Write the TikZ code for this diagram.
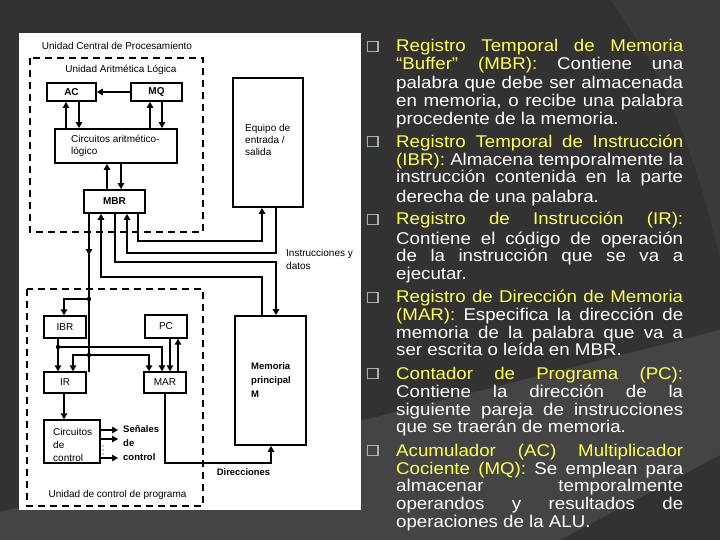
\documentclass[tikz,border=0pt]{standalone}
\usepackage{fontspec}
\setmainfont{Liberation Sans}
\newfontfamily\rfont[FakeStretch=1.1]{Liberation Sans}
\usetikzlibrary{arrows.meta}
\definecolor{bgd}{RGB}{50,50,50}
\definecolor{bgl}{RGB}{68,68,68}
\definecolor{bgm}{RGB}{58,58,58}
\definecolor{ylw}{RGB}{255,255,85}
\definecolor{bul}{RGB}{165,176,178}
\newcommand\JL[1]{\makebox[287pt][s]{#1}}
\begin{document}
\begin{tikzpicture}[x=1pt,y=-1pt,
  box/.style={draw=black, line width=1.8pt, fill=white, inner sep=0pt, font=\fontsize{10}{12}\selectfont},
  sbox/.style={draw=black, line width=1.4pt, fill=white, inner sep=0pt, font=\fontsize{10}{12}\selectfont},
  arr/.style={-{Triangle[length=6pt,width=6.5pt]}},
  thin/.style={line width=1.1pt},
  thk/.style={line width=1.9pt},
  dbox/.style={draw, line width=1.5pt, dash pattern=on 7pt off 5pt},
  lbl/.style={font=\fontsize{10}{12}\selectfont, inner sep=0pt, text=black},
  rl/.style={anchor=base west, inner sep=0pt, text=white, font=\rfont\fontsize{17}{18.1}\selectfont},
  bsq/.style={draw=bul, line width=1.1pt},
]
\useasboundingbox (0,0) rectangle (720,540);
% background
\fill[bgd] (0,0) rectangle (720,540);
\fill[bgm] (610,0) .. controls (670,80) and (700,170) .. (720,260) -- (720,0) -- cycle;
\fill[bgl] (0,512) -- (720,330) -- (720,455) -- (560,540) -- (0,540) -- cycle;
\fill[white] (19,33) rectangle (361,510);

% dashed units
\draw[dbox] (30,58) rectangle (203,232);
\draw[dbox] (27,289) rectangle (203,506);

% boxes
\node[box, minimum width=49pt, minimum height=18pt] (ac) at (71.5,92) {\bfseries AC};
\node[box, minimum width=51pt, minimum height=18pt] (mq) at (156.5,92) {\bfseries MQ};
\node[box, minimum width=122pt, minimum height=34pt] (alu) at (116,146) {};
\node[lbl, anchor=west, align=left] (alut) at (71,146) {Circuitos aritmético-\\lógico};
\node[box, minimum width=61pt, minimum height=23pt] (mbr) at (114.5,201.5) {\bfseries MBR};
\node[box, minimum width=70pt, minimum height=129pt] (io) at (268,142.5) {};
\node[lbl, anchor=west, align=left] (iot) at (245,140) {Equipo de\\entrada /\\salida};
\node[box, minimum width=71pt, minimum height=129pt] (mem) at (270.5,380.5) {};
\node[lbl, anchor=west, align=left, font=\bfseries\fontsize{9.5}{14}\selectfont] (memt) at (251,380) {Memoria\\principal\\M};
\node[sbox, minimum width=42pt, minimum height=22pt] (ibr) at (65,327) {IBR};
\node[sbox, minimum width=42pt, minimum height=23pt] (pc) at (166,326.5) {PC};
\node[sbox, minimum width=42pt, minimum height=21pt] (ir) at (65,382.5) {IR};
\node[sbox, minimum width=42pt, minimum height=21pt] (mar) at (165,382.5) {MAR};
\node[sbox, minimum width=56pt, minimum height=43pt] (cc) at (72,441.5) {};
\node[lbl, anchor=west, align=left, font=\fontsize{10}{13}\selectfont] (cct) at (53,445) {Circuitos\\de\\control};

% labels
\node[lbl] (t1) at (117,46) {Unidad Central de Procesamiento};
\node[lbl] (t2) at (121,70) {Unidad Aritmética Lógica};
\node[lbl, anchor=west, align=left, font=\fontsize{10}{12.5}\selectfont] (t3) at (286,259.5) {Instrucciones y\\datos};
\node[lbl, anchor=west, align=left, font=\bfseries\fontsize{9.5}{14}\selectfont] (sen) at (123,443.5) {Señales\\de\\control};
\node[lbl] (t4) at (117.5,495) {Unidad de control de programa};
\node[lbl, font=\bfseries\fontsize{9.4}{12}\selectfont] (dir) at (243.5,472) {Direcciones};

% coordinates
\coordinate (j1) at (89,299);
\coordinate (j2) at (89,355);
\coordinate (j3) at (58,347);
\coordinate (busend) at (89,372);
\coordinate (s1) at (118,430);
\coordinate (s2) at (118,439);
\coordinate (s3) at (118,458);

% ALU connectors
\draw[thk,arr] (mq.west) -- (ac.east);
\draw[thin,arr] (alu.north -| 66,0) -- (ac.south -| 66,0);
\draw[thin,arr] (ac.south -| 79,0) -- (alu.north -| 79,0);
\draw[thk,arr] (alu.north -| 150,0) -- (mq.south -| 150,0);
\draw[thin,arr] (mq.south -| 162,0) -- (alu.north -| 162,0);
\draw[thk,arr] (mbr.north -| 107,0) -- (alu.south -| 107,0);
\draw[thin,arr] (alu.south -| 121,0) -- (mbr.north -| 121,0);

% MBR <-> I/O, memory
\draw[thk,arr] (mbr.south -| 138,0) |- (262,241) -- (io.south -| 262,0);
\draw[thk,arr] (io.south -| 276,0) |- (127,253) -- (mbr.south -| 127,0);
\draw[thk,arr] (mbr.south -| 115,0) |- (276,262) -- (mem.north -| 276,0);
\draw[thk,arr] (mem.north -| 262,0) |- (101,277) -- (mbr.south -| 101,0);

% bus from MBR to control unit
\draw[thin,arr] (mbr.south -| j1) -- (89,255);
\draw[thin] (89,250) -- (busend);
\draw[thin,arr] (j1) -| (ibr.north -| 64,0);
\draw[thin,arr] (j2) -| (ir.north -| 73,0);
\draw[thin,arr] (j2) -| (mar.north -| 149,0);
\draw[thin,arr] (ibr.south -| 58,0) -- (ir.north -| 58,0);
\draw[thin,arr] (j3) -| (mar.north -| 162,0);
\draw[thin,arr] (pc.south -| 170,0) -- (mar.north -| 170,0);
\draw[thin,arr] (mar.north -| 178,0) -- (pc.south -| 178,0);
\fill (j1) circle (2.2);
\fill (j2) circle (2.2);
\fill (j3) circle (2.2);

% control
\draw[thk,arr] (ir.south -| 64,0) -- (cc.north -| 64,0);
\draw[thin,arr] (cc.east |- s1) -- (s1);
\draw[thin,arr] (cc.east |- s2) -- (s2);
\draw[thin,arr] (cc.east |- s3) -- (s3);
\fill (103,446) circle (0.6);
\fill (103,450) circle (0.6);
\fill (103,454) circle (0.6);

% MAR -> memory
\draw[thk,arr] (mar.south -| 165,0) |- (271,463) -- (mem.south -| 271,0);

% bullets
\foreach \b in {52,147.3,225,302.7,379.3,456}{
  \draw[bsq] (367.5,\b-10.5) rectangle (378,\b-0.5);
}

% right text
\node[rl] (a1) at (396,52) {\JL{\color{ylw}Registro Temporal de Memoria}};
\node[rl] (a2) at (396,70) {\JL{{\color{ylw}“Buffer” (MBR):} Contiene una}};
\node[rl] (a3) at (396,89) {\JL{palabra que debe ser almacenada}};
\node[rl] (a4) at (396,107) {\JL{en memoria, o recibe una palabra}};
\node[rl] (a5) at (396,124.5) {procedente de la memoria.};

\node[rl] (b1) at (396,147.3) {\JL{\color{ylw}Registro Temporal de Instrucción}};
\node[rl] (b2) at (396,165.2) {\JL{{\color{ylw}(IBR):} Almacena temporalmente la}};
\node[rl] (b3) at (396,183) {\JL{instrucción contenida en la parte}};
\node[rl] (b4) at (396,202.5) {derecha de una palabra.};

\node[rl] (c1) at (396,225) {\JL{\color{ylw}Registro de Instrucción (IR):}};
\node[rl] (c2) at (396,244) {\JL{Contiene el código de operación}};
\node[rl] (c3) at (396,261.7) {\JL{de la instrucción que se va a}};
\node[rl] (c4) at (396,279.3) {ejecutar.};

\node[rl] (d1) at (396,302.7) {\JL{\color{ylw}Registro de Dirección de Memoria}};
\node[rl] (d2) at (396,320) {\JL{{\color{ylw}(MAR):} Especifica la dirección de}};
\node[rl] (d3) at (396,338.3) {\JL{memoria de la palabra que va a}};
\node[rl] (d4) at (396,355.7) {ser escrita o leída en MBR.};

\node[rl] (e1) at (396,379.3) {\JL{\color{ylw}Contador de Programa (PC):}};
\node[rl] (e2) at (396,397.7) {\JL{Contiene la dirección de la}};
\node[rl] (e3) at (396,415) {\JL{siguiente pareja de instrucciones}};
\node[rl] (e4) at (396,432.7) {que se traerán de memoria.};

\node[rl] (f1) at (396,456) {\JL{\color{ylw}Acumulador (AC) Multiplicador}};
\node[rl] (f2) at (396,474.3) {\JL{{\color{ylw}Cociente (MQ):} Se emplean para}};
\node[rl] (f3) at (396,491.7) {\JL{almacenar temporalmente}};
\node[rl] (f4) at (396,509.3) {\JL{operandos y resultados de}};
\node[rl] (f5) at (396,527.7) {operaciones de la ALU.};
\end{tikzpicture}
\end{document}
